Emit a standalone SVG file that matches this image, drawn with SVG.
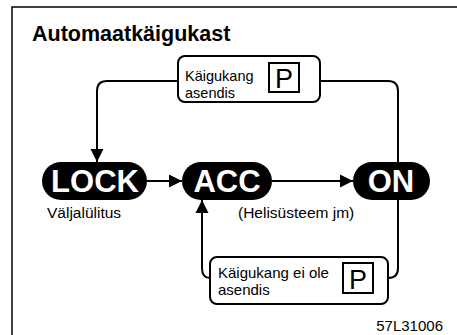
<svg xmlns="http://www.w3.org/2000/svg" width="457" height="335" viewBox="0 0 457 335">
<defs>
<style>
.t{font-family:"Liberation Sans",Arial,sans-serif;fill:#000}
.pill{fill:#000}
.pt{font-family:"Liberation Sans",Arial,sans-serif;font-weight:bold;fill:#fff;font-size:31px;text-anchor:middle}
.box{fill:#fff;stroke:#000;stroke-width:2}
.pb{fill:#fff;stroke:#000;stroke-width:2}
.con{fill:none;stroke:#000;stroke-width:2}
</style>
<marker id="ah" viewBox="0 0 10 10" refX="10" refY="5" markerWidth="13" markerHeight="14" markerUnits="userSpaceOnUse" orient="auto">
<path d="M0,0 L10,5 L0,10 Z" fill="#000"/>
</marker>
</defs>
<rect width="457" height="335" fill="#fff"/>
<path d="M12,335 V7 H457" fill="none" stroke="#000" stroke-width="1.5"/>
<text class="t" x="32" y="41" font-size="21.5" font-weight="bold">Automaatkäigukast</text>
<g id="connectors">
<path class="con" d="M178,81 H107 Q97,81 97,91 V162" marker-end="url(#ah)"/>
<path class="con" d="M320,81 H388 Q398,81 398,91 V162"/>
<path class="con" d="M147,181 H182" marker-end="url(#ah)"/>
<path class="con" d="M272,181 H353" marker-end="url(#ah)"/>
<path class="con" d="M210,278 Q202,278 202,268 V200" marker-end="url(#ah)"/>
<path class="con" d="M388,278 Q398,278 398,268 V200"/>
</g>
<g id="box-top">
<rect class="box" x="178" y="56" width="142" height="46" rx="7"/>
<text class="t" x="185" y="81" font-size="14.5">Käigukang</text>
<text class="t" x="185" y="98" font-size="14.5">asendis</text>
<rect class="pb" x="269" y="63" width="30" height="29"/>
<text class="t" x="284" y="88" font-size="27" text-anchor="middle">P</text>
</g>
<g id="lock">
<rect class="pill" x="42" y="162" width="105" height="38" rx="19"/>
<text class="pt" x="95" y="192">LOCK</text>
<text class="t" x="47" y="218" font-size="15.5">Väljalülitus</text>
</g>
<g id="acc">
<rect class="pill" x="182" y="162" width="90" height="38" rx="19"/>
<text class="pt" x="227" y="192">ACC</text>
<text class="t" x="238" y="218" font-size="15.5">(Helisüsteem jm)</text>
</g>
<g id="on">
<rect class="pill" x="353" y="162" width="77" height="38" rx="19"/>
<text class="pt" x="391" y="192">ON</text>
</g>
<g id="box-bottom">
<rect class="box" x="210" y="257" width="178" height="47" rx="7"/>
<text class="t" x="218" y="278" font-size="15">Käigukang ei ole</text>
<text class="t" x="218" y="295" font-size="15">asendis</text>
<rect class="pb" x="343" y="263" width="30" height="30"/>
<text class="t" x="358" y="289" font-size="27" text-anchor="middle">P</text>
</g>
<text class="t" x="443" y="331" font-size="15" text-anchor="end">57L31006</text>
</svg>
